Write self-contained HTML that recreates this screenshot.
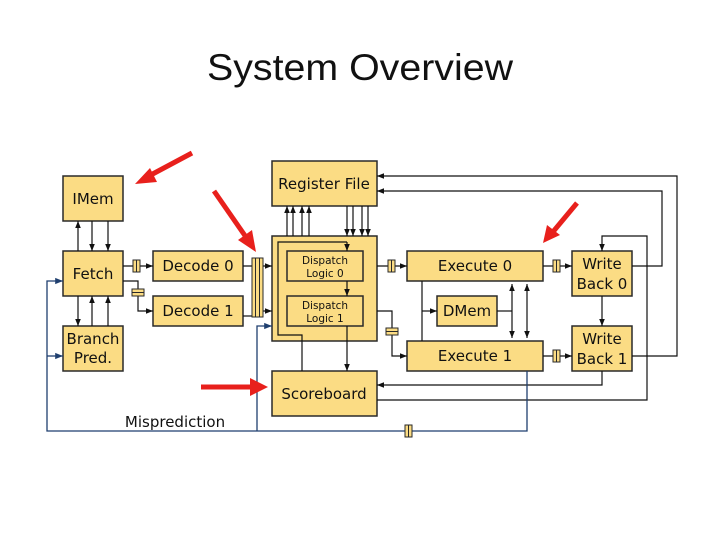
<!DOCTYPE html>
<html><head><style>
html,body{margin:0;padding:0;background:#fff;width:720px;height:540px;overflow:hidden}
svg{display:block}
text{font-family:"DejaVu Sans","Liberation Sans",sans-serif;fill:#111}
</style></head><body>
<svg width="720" height="540" viewBox="0 0 720 540" xmlns="http://www.w3.org/2000/svg">
<defs>
<marker id="a" viewBox="0 0 10 10" refX="10" refY="5" markerWidth="6" markerHeight="6" orient="auto-start-reverse"><path d="M0,1 L10,5 L0,9 z" fill="#111"/></marker>
<marker id="b" viewBox="0 0 10 10" refX="10" refY="5" markerWidth="6" markerHeight="6" orient="auto"><path d="M0,1 L10,5 L0,9 z" fill="#1f3f6f"/></marker>
</defs>
<text x="360" y="80" text-anchor="middle" font-size="37" textLength="306" lengthAdjust="spacingAndGlyphs" style="font-family:'Liberation Sans',sans-serif">System Overview</text>

<g fill="#fbdc84" stroke="#2a2a2a" stroke-width="1.5">
<rect x="63" y="176" width="60" height="45"/>
<rect x="63" y="251" width="60" height="45"/>
<rect x="63" y="326" width="60" height="45"/>
<rect x="153" y="251" width="90" height="30"/>
<rect x="153" y="296" width="90" height="30"/>
<rect x="272" y="161" width="105" height="45"/>
<rect x="272" y="236" width="105" height="105"/>
<rect x="287" y="251" width="76" height="30"/>
<rect x="287" y="296" width="76" height="30"/>
<rect x="272" y="371" width="105" height="45"/>
<rect x="407" y="251" width="136" height="30"/>
<rect x="407" y="341" width="136" height="30"/>
<rect x="437" y="296" width="60" height="30"/>
<rect x="572" y="251" width="60" height="45"/>
<rect x="572" y="326" width="60" height="45"/>
</g>

<g font-size="15" text-anchor="middle">
<text x="93" y="204">IMem</text>
<text x="93" y="279">Fetch</text>
<text x="93" y="344">Branch</text>
<text x="93" y="363">Pred.</text>
<text x="198" y="271">Decode 0</text>
<text x="198" y="316">Decode 1</text>
<text x="324" y="189">Register File</text>
<text x="324" y="399">Scoreboard</text>
<text x="475" y="271">Execute 0</text>
<text x="475" y="361">Execute 1</text>
<text x="467" y="316">DMem</text>
<text x="602" y="269">Write</text>
<text x="602" y="289">Back 0</text>
<text x="602" y="344">Write</text>
<text x="602" y="364">Back 1</text>
<text x="175" y="427">Misprediction</text>
</g>
<g font-size="10.5" text-anchor="middle">
<text x="325" y="264">Dispatch</text>
<text x="325" y="277">Logic 0</text>
<text x="325" y="309">Dispatch</text>
<text x="325" y="322">Logic 1</text>
</g>

<g stroke="#111" stroke-width="1.2" fill="none">
<!-- IMem/Fetch/Branch -->
<line x1="78" y1="251" x2="78" y2="221" marker-end="url(#a)"/>
<line x1="92" y1="221" x2="92" y2="251" marker-end="url(#a)"/>
<line x1="108" y1="221" x2="108" y2="251" marker-end="url(#a)"/>
<line x1="78" y1="296" x2="78" y2="326" marker-end="url(#a)"/>
<line x1="92" y1="326" x2="92" y2="296" marker-end="url(#a)"/>
<line x1="108" y1="326" x2="108" y2="296" marker-end="url(#a)"/>
<!-- Fetch to decode -->
<line x1="123" y1="266" x2="153" y2="266" marker-end="url(#a)"/>
<polyline points="123,281 138,281 138,311 153,311" marker-end="url(#a)"/>
<!-- decode to dispatch -->
<line x1="243" y1="266" x2="272" y2="266" marker-end="url(#a)"/>
<line x1="243" y1="316" x2="252" y2="316"/>
<line x1="263" y1="311" x2="272" y2="311" marker-end="url(#a)"/>
<!-- RF arrows -->
<line x1="287" y1="236" x2="287" y2="206" marker-end="url(#a)"/>
<line x1="293" y1="236" x2="293" y2="206" marker-end="url(#a)"/>
<line x1="302" y1="236" x2="302" y2="206" marker-end="url(#a)"/>
<line x1="309" y1="236" x2="309" y2="206" marker-end="url(#a)"/>
<line x1="347" y1="206" x2="347" y2="236" marker-end="url(#a)"/>
<line x1="353" y1="206" x2="353" y2="236" marker-end="url(#a)"/>
<line x1="362" y1="206" x2="362" y2="236" marker-end="url(#a)"/>
<line x1="368" y1="206" x2="368" y2="236" marker-end="url(#a)"/>
<!-- inner dispatch -->
<polyline points="347,242 278,242 278,335 302,335 302,371"/>
<line x1="347" y1="242" x2="347" y2="251" marker-end="url(#a)"/>
<line x1="347" y1="281" x2="347" y2="296" marker-end="url(#a)"/>
<line x1="347" y1="326" x2="347" y2="371" marker-end="url(#a)"/>
<!-- dispatch to execute -->
<line x1="377" y1="266" x2="407" y2="266" marker-end="url(#a)"/>
<polyline points="377,311 392,311 392,356 407,356" marker-end="url(#a)"/>
<!-- exec/dmem -->
<line x1="422" y1="281" x2="422" y2="341"/>
<line x1="422" y1="311" x2="437" y2="311" marker-end="url(#a)"/>
<line x1="497" y1="311" x2="512" y2="311"/>
<line x1="512" y1="284" x2="512" y2="338" marker-start="url(#a)" marker-end="url(#a)"/>
<line x1="527" y1="284" x2="527" y2="338" marker-start="url(#a)" marker-end="url(#a)"/>
<!-- exec to WB -->
<line x1="543" y1="266" x2="572" y2="266" marker-end="url(#a)"/>
<line x1="543" y1="356" x2="572" y2="356" marker-end="url(#a)"/>
<line x1="602" y1="296" x2="602" y2="326" marker-end="url(#a)"/>
<!-- feedback -->
<polyline points="632,356 677,356 677,176 377,176" marker-end="url(#a)"/>
<polyline points="632,266 662,266 662,191 377,191" marker-end="url(#a)"/>
<polyline points="377,400 647,400 647,236 602,236 602,251" marker-end="url(#a)"/>
<polyline points="602,371 602,385 377,385" marker-end="url(#a)"/>
</g>

<!-- blue misprediction -->
<g stroke="#1f3f6f" stroke-width="1.3" fill="none">
<polyline points="527,371 527,431 47,431 47,281 63,281" marker-end="url(#b)"/>
<line x1="47" y1="356" x2="63" y2="356" marker-end="url(#b)"/>
<polyline points="257,431 257,326 272,326" marker-end="url(#b)"/>
</g>

<!-- pipeline registers -->
<g fill="#fbdc84" stroke="#2a2a2a" stroke-width="1">
<rect x="252" y="258" width="11" height="59"/>
<line x1="255.5" y1="258" x2="255.5" y2="317"/><line x1="259.5" y1="258" x2="259.5" y2="317"/>
<rect x="133" y="260" width="7" height="12"/><line x1="136.5" y1="260" x2="136.5" y2="272"/>
<rect x="132" y="289" width="12" height="7"/><line x1="132" y1="292.5" x2="144" y2="292.5"/>
<rect x="388" y="260" width="7" height="12"/><line x1="391.5" y1="260" x2="391.5" y2="272"/>
<rect x="386" y="328" width="12" height="7"/><line x1="386" y1="331.5" x2="398" y2="331.5"/>
<rect x="553" y="260" width="7" height="12"/><line x1="556.5" y1="260" x2="556.5" y2="272"/>
<rect x="553" y="350" width="7" height="12"/><line x1="556.5" y1="350" x2="556.5" y2="362"/>
<rect x="405" y="425" width="7" height="12"/><line x1="408.5" y1="425" x2="408.5" y2="437"/>
</g>

<!-- red arrows -->
<g fill="#e8201c" stroke="#e8201c">
<line x1="192" y1="153" x2="147" y2="177" stroke-width="5"/>
<polygon points="135,184 150,168 157,182" stroke="none"/>
<line x1="214" y1="191" x2="248" y2="240" stroke-width="5"/>
<polygon points="256,252 238,240 252,230" stroke="none"/>
<line x1="201" y1="387" x2="255" y2="387" stroke-width="5"/>
<polygon points="268,387 250,378 250,396" stroke="none"/>
<line x1="577" y1="203" x2="552" y2="233" stroke-width="5"/>
<polygon points="543,243 547,225 560,235" stroke="none"/>
</g>
</svg>
</body></html>
